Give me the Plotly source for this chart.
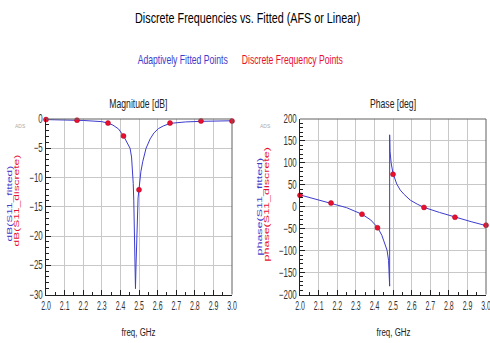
import plotly.graph_objects as go

# ---- data ----
disc_freq = [2.0, 2.1667, 2.3333, 2.4167, 2.5, 2.6667, 2.8333, 3.0]
disc_mag = [-0.1, -0.2, -0.7, -2.9, -12.1, -0.7, -0.35, -0.35]
disc_phase = [26, 8.5, -17, -48, 74, -1.5, -24, -42]

fit_mag_freq = [2.00, 2.10, 2.20, 2.30, 2.333, 2.36, 2.39, 2.417, 2.44, 2.452, 2.46, 2.465,
                2.469, 2.472, 2.475, 2.478, 2.481, 2.484, 2.487, 2.491, 2.495, 2.50, 2.51,
                2.52, 2.538, 2.56, 2.58, 2.604, 2.63, 2.667, 2.75, 2.833, 2.92, 3.00]
fit_mag = [-0.1, -0.15, -0.25, -0.45, -0.7, -1.05, -1.7, -2.9, -4.2, -5.0, -6.5, -8.5,
           -11, -14, -18, -23, -29, -25, -21, -16, -13.5, -12, -9.0,
           -7.3, -5.0, -3.4, -2.4, -1.65, -1.2, -0.75, -0.5, -0.4, -0.33, -0.3]

fit_ph_freq = [2.00, 2.08, 2.167, 2.25, 2.333, 2.38, 2.417, 2.44, 2.449, 2.46, 2.468, 2.476,
               2.48, 2.482, 2.482, 2.484, 2.49, 2.50, 2.52, 2.539, 2.56, 2.593, 2.63, 2.667,
               2.75, 2.833, 2.92, 3.00]
fit_phase = [27, 18, 9, -2, -17, -30, -47, -65, -76, -88, -99, -122,
             -152, -181, 164, 126, 100, 76, 52, 38, 28, 15, 6, -1.5,
             -13, -24, -34, -43]

x_ticks = [2.0, 2.1, 2.2, 2.3, 2.4, 2.5, 2.6, 2.7, 2.8, 2.9, 3.0]
mag_ticks = [0, -5, -10, -15, -20, -25, -30]
phase_ticks = [200, 150, 100, 50, 0, -50, -100, -150, -200]

BLUE = "#3c3ccc"
RED = "#e8102e"
FONT = "Liberation Sans, Arial"
W, H = 490, 343

fig = go.Figure()
fig.add_trace(go.Scatter(x=fit_mag_freq, y=fit_mag, mode="lines",
                         line=dict(color=BLUE, width=1), xaxis="x", yaxis="y", showlegend=False))
fig.add_trace(go.Scatter(x=disc_freq, y=disc_mag, mode="markers",
                         marker=dict(color=RED, size=5, line=dict(color="#b00020", width=0.5)),
                         xaxis="x", yaxis="y", showlegend=False, cliponaxis=False))
fig.add_trace(go.Scatter(x=fit_ph_freq, y=fit_phase, mode="lines",
                         line=dict(color=BLUE, width=1), xaxis="x2", yaxis="y2", showlegend=False))
fig.add_trace(go.Scatter(x=disc_freq, y=disc_phase, mode="markers",
                         marker=dict(color=RED, size=5, line=dict(color="#b00020", width=0.5)),
                         xaxis="x2", yaxis="y2", showlegend=False, cliponaxis=False))

def px(x):
    return x / W

def py(y):
    return 1 - y / H

xdom1 = [px(46), px(232)]
xdom2 = [px(300), px(486)]
ydom = [py(294.5), py(119)]

tickfont = dict(family=FONT, size=12, color="#333333")

def xaxis(dom, anchor):
    return dict(domain=dom, anchor=anchor, range=[2.0, 3.0], tickvals=x_ticks,
                ticktext=[f"{v:.1f}" for v in x_ticks], tickfont=tickfont, automargin=False,
                tickangle=0, ticklabeloverflow="allow",
                showgrid=True, gridcolor="#c8c8c8", gridwidth=1, zeroline=False,
                showline=True, linecolor="#202020", linewidth=1,
                ticks="inside", ticklen=5, tickcolor="#202020",
                minor=dict(dtick=0.05, tick0=2.0, ticks="inside", ticklen=3,
                           tickcolor="#202020", showgrid=False),
                fixedrange=True)

def yaxis(dom, anchor, rng, tv, mdt):
    return dict(domain=dom, anchor=anchor, range=rng, tickvals=tv, tickfont=tickfont,
                automargin=False, ticklabeloverflow="allow",
                showgrid=True, gridcolor="#c8c8c8", gridwidth=1, zeroline=False,
                showline=True, linecolor="#202020", linewidth=1,
                ticks="inside", ticklen=5, tickcolor="#202020",
                minor=dict(dtick=mdt, ticks="inside", ticklen=3,
                           tickcolor="#202020", showgrid=False),
                fixedrange=True)

fig.update_layout(
    width=W, height=H,
    margin=dict(l=0, r=0, t=0, b=0, autoexpand=False),
    paper_bgcolor="white", plot_bgcolor="white",
    xaxis=xaxis(xdom1, "y"),
    yaxis=yaxis(ydom, "x", [-30, 0], mag_ticks, 1),
    xaxis2=xaxis(xdom2, "y2"),
    yaxis2=yaxis(ydom, "x2", [-200, 200], phase_ticks, 10),
)

# top/right frame lines (gray)
for dom in (xdom1, xdom2):
    fig.add_shape(type="line", xref="paper", yref="paper", x0=dom[0], x1=dom[1],
                  y0=ydom[1], y1=ydom[1], line=dict(color="#606060", width=1))
    fig.add_shape(type="line", xref="paper", yref="paper", x0=dom[1], x1=dom[1],
                  y0=ydom[0], y1=ydom[1], line=dict(color="#606060", width=1))

def ann(text, x, y, size, color="black", angle=0):
    fig.add_annotation(text=text, x=px(x), y=py(y), xref="paper", yref="paper",
                       showarrow=False, xanchor="center", yanchor="middle",
                       textangle=angle, font=dict(family=FONT, size=size, color=color))

ann("Discrete Frequencies vs. Fitted (AFS or Linear)", 248, 17, 15)
ann("Adaptively Fitted Points", 182, 60, 12, BLUE)
ann("Discrete Frequency Points", 292, 60, 12, RED)
ann("Magnitude [dB]", 138, 104, 12, "#222222")
ann("Phase [deg]", 393, 104, 12, "#222222")
ann("freq, GHz", 138, 332, 11, "#222222")
ann("freq, GHz", 393, 332, 11, "#222222")
ann("ADS", 20, 126, 5, "#aaaaaa")
ann("ADS", 265, 126, 5, "#aaaaaa")
ann("dB(S11_fitted)", 9.5, 204, 12, BLUE, angle=-90)
ann("dB(S11_discrete)", 16.5, 201, 12, RED, angle=-90)
ann("phase(S11_fitted)", 259.5, 207, 12.5, BLUE, angle=-90)
ann("phase(S11_discrete)", 266.5, 205, 12.5, RED, angle=-90)

# Remove the page's default body margin, and narrow the text glyphs horizontally on
# screen (the reference's text is condensed); all text stays real text.
post = """
(function(){
  document.body.style.margin = '0';
  document.body.style.padding = '0';
  function squeeze(){
    var gd = document.getElementById('{plot_id}');
    if(!gd) return;
    gd.querySelectorAll('text').forEach(function(t){
      if (t.getAttribute('data-sq')) return;
      var txt = t.textContent || '';
      if (txt === 'ADS' || !txt) return;
      var bb;
      try { bb = t.getBBox(); } catch (e) { return; }
      var tr = t.getAttribute('transform') || '';
      if (txt.indexOf('S11') >= 0) {
        var cy = bb.y + bb.height / 2;
        t.setAttribute('transform', tr + ' translate(0,' + cy + ') scale(1,0.64) translate(0,' + (-cy) + ')');
      } else {
        var pc = (t.parentNode && t.parentNode.getAttribute('class')) || '';
        var s = 0.72, cx = bb.x + bb.width / 2;
        if (/^x2?tick/.test(pc)) { s = 0.58; }
        else if (/^y2?tick/.test(pc)) { s = 0.66; cx = bb.x + bb.width; }
        t.setAttribute('transform', tr + ' translate(' + cx + ',0) scale(' + s + ',1) translate(' + (-cx) + ',0)');
      }
      t.setAttribute('data-sq', '1');
    });
  }
  squeeze();
  setTimeout(squeeze, 30);
  setTimeout(squeeze, 300);
})();
"""

fig.write_html("out.html", post_script=post, config={"displayModeBar": False})
